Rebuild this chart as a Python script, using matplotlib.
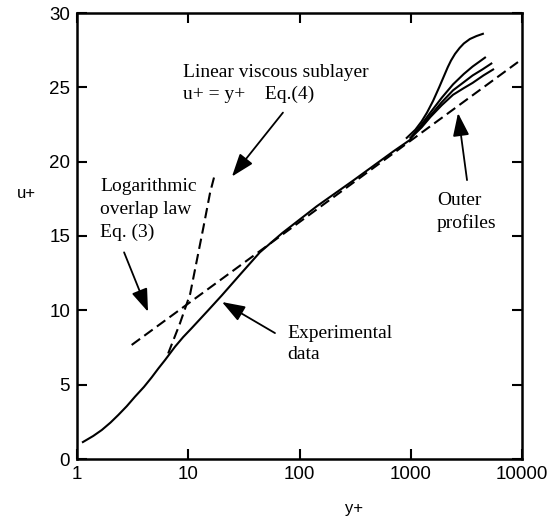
#!/usr/bin/env python3
"""
Law of the wall: u+ vs y+ (semi-log), with viscous sublayer, log law and outer profiles
"""

import numpy as np
import matplotlib
matplotlib.use('Agg')
import matplotlib.pyplot as plt

# ---- data ----
# experimental curve (solid)
exp_yplus = [1.13, 1.4, 1.67, 2.0, 2.35, 2.8, 3.32, 4.0, 4.69, 5.4, 6.19, 7.6,
             9.0, 10.7, 15.1, 20, 30, 44, 70, 143, 300, 700, 1000]
exp_uplus = [1.14, 1.55, 1.95, 2.45, 2.96, 3.55, 4.19, 4.85, 5.49, 6.1, 6.66, 7.55,
             8.2, 8.79, 10.0, 11.0, 12.5, 13.9, 15.2, 17.0, 18.7, 20.7, 21.5]

# linear viscous sublayer u+ = y+ (dashed)
lin_yplus = [6.6, 8.4, 10.4, 13.7, 15.7, 17.4]
lin_uplus = [7.1, 9.1, 11.1, 15.6, 17.9, 19.2]

# logarithmic overlap law (dashed, straight on semi-log axes)
log_yplus = [3.1, 9200]
log_uplus = [7.67, 26.7]

# outer profiles
outer_top_y = [920, 1100, 1250, 1400, 1590, 1800, 2000, 2150, 2300, 2500, 2750,
               3000, 3400, 3900, 4450]
outer_top_u = [21.6, 22.15, 22.7, 23.3, 24.1, 25.0, 25.8, 26.35, 26.8, 27.25, 27.65,
               27.95, 28.25, 28.45, 28.6]
outer_a_y = [1000, 1250, 1500, 1900, 2400, 3000, 3600, 4650]
outer_a_u = [21.6, 22.5, 23.3, 24.3, 25.2, 25.9, 26.4, 27.0]
outer_b_y = [1000, 1250, 1500, 1900, 2400, 3000, 3600, 4400, 5300]
outer_b_u = [21.6, 22.4, 23.1, 24.0, 24.8, 25.35, 25.8, 26.2, 26.6]
outer_c_y = [1000, 1250, 1500, 1900, 2400, 3000, 3600, 4500, 5500]
outer_c_u = [21.6, 22.3, 23.0, 23.8, 24.5, 24.95, 25.3, 25.8, 26.2]

x_ticks = [1, 10, 100, 1000, 10000]
x_ticklabels = ['1', '10', '100', '1000', '10000']
y_ticks = [0, 5, 10, 15, 20, 25, 30]

SERIF = ['Liberation Serif', 'DejaVu Serif']
SANS = ['Liberation Sans', 'DejaVu Sans']


def main():
    plt.rcParams['font.family'] = SANS

    fig = plt.figure(figsize=(5.54, 5.22), dpi=100)
    ax = fig.add_axes([77 / 554, 63 / 522, 445 / 554, 446 / 522])

    dash = (0, (5, 2.5))
    lw = 1.5

    ax.plot(exp_yplus, exp_uplus, color='black', lw=lw)
    ax.plot(lin_yplus, lin_uplus, color='black', lw=lw, linestyle=dash)
    ax.plot(log_yplus, log_uplus, color='black', lw=lw, linestyle=dash)

    for xs, us in [(outer_top_y, outer_top_u), (outer_a_y, outer_a_u),
                   (outer_b_y, outer_b_u), (outer_c_y, outer_c_u)]:
        ax.plot(xs, us, color='black', lw=lw)

    ax.set_xscale('log')
    ax.set_xlim(1, 10000)
    ax.set_ylim(0, 30)
    ax.set_xticks(x_ticks)
    ax.set_xticklabels(x_ticklabels)
    ax.xaxis.set_minor_locator(matplotlib.ticker.NullLocator())
    ax.set_yticks(y_ticks)

    ax.tick_params(axis='both', which='major', direction='in', length=7, width=1.5,
                   top=True, right=True, labelsize=13.5, pad=5)
    for sp in ax.spines.values():
        sp.set_linewidth(1.8)

    # axis labels
    fig.text(26 / 554, 1 - 193 / 522, 'u+', fontsize=12, ha='center', va='center')
    fig.text(354 / 554, 1 - 508 / 522, 'y+', fontsize=12, ha='center', va='center')

    # annotations
    tkw = dict(fontsize=14, family=SERIF, ha='left', va='center')
    ax.text(8.97, 26.0, 'Linear viscous sublayer', **tkw)
    ax.text(8.97, 24.5, 'u+ = y+    Eq.(4)', **tkw)
    ax.text(1.61, 18.3, 'Logarithmic', **tkw)
    ax.text(1.61, 16.75, 'overlap law', **tkw)
    ax.text(1.61, 15.27, 'Eq. (3)', **tkw)
    ax.text(77.2, 8.47, 'Experimental', **tkw)
    ax.text(77.2, 7.0, 'data', **tkw)
    ax.text(1722, 17.4, 'Outer', **tkw)
    ax.text(1722, 15.9, 'profiles', **tkw)

    aprops = dict(arrowstyle='-|>,head_length=0.7,head_width=0.25', color='black',
                  lw=1.3, mutation_scale=20, shrinkA=0, shrinkB=0)
    ax.annotate('', xy=(24.7, 19.0), xytext=(71, 23.3), arrowprops=aprops)
    ax.annotate('', xy=(4.35, 9.9), xytext=(2.65, 13.9), arrowprops=aprops)
    ax.annotate('', xy=(20.1, 10.56), xytext=(60.2, 8.47), arrowprops=aprops)
    ax.annotate('', xy=(2660, 23.27), xytext=(3205, 18.76), arrowprops=aprops)

    fig.savefig('out.png', dpi=100)


if __name__ == "__main__":
    main()
